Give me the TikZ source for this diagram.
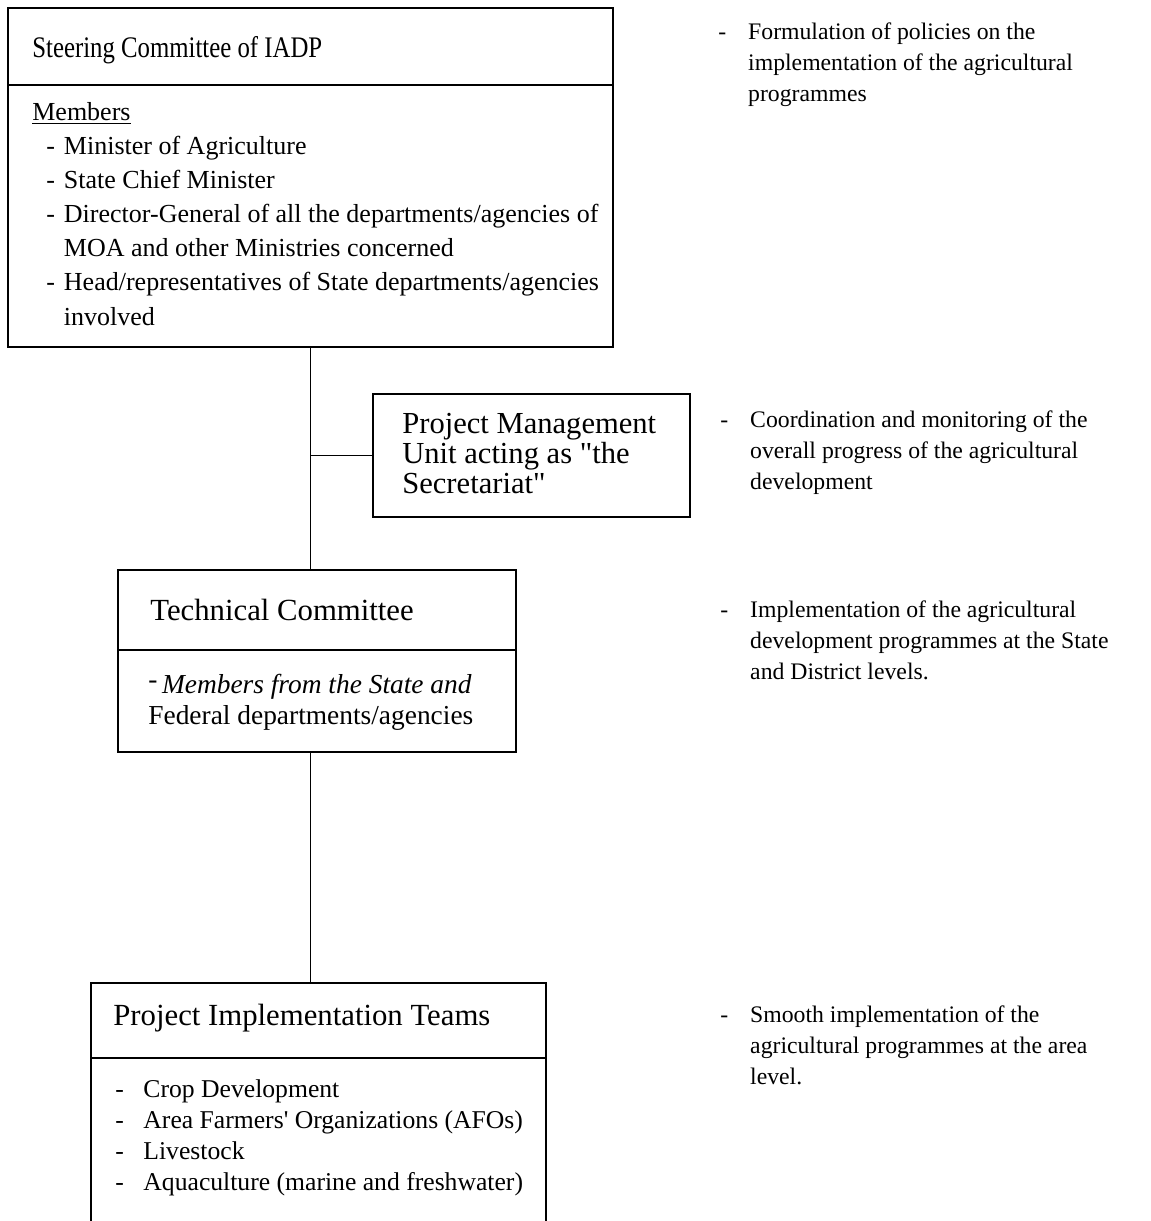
\documentclass[tikz,border=0pt]{standalone}
\usepackage{fontspec}
\setmainfont{Liberation Serif}[Ligatures=TeXOff]
\newfontfamily\narrowserif{Liberation Serif}[FakeStretch=0.83]
\usetikzlibrary{positioning,calc,fit}
\newcommand{\itm}{\makebox[10pt][l]{-}}
\newcommand{\rdash}{\makebox[17pt][l]{-}}
\tikzset{
  orgbox/.style={draw=black, line width=1.1pt, inner sep=0pt},
  rulel/.style={line width=1.1pt, draw=black},
  link/.style={line width=1.1pt, draw=black},
  headtxt/.style={anchor=base west, inner sep=0pt, font=\fontsize{17.5}{20}\selectfont},
  steerhead/.style={anchor=base west, inner sep=0pt, font=\narrowserif\fontsize{17}{20}\selectfont},
  membtxt/.style={anchor=base west, inner sep=0pt, align=left, font=\fontsize{14.8}{19.4}\selectfont},
  pmutxt/.style={anchor=base west, inner sep=0pt, align=left, font=\fontsize{17.4}{17}\selectfont},
  techtxt/.style={anchor=base west, inner sep=0pt, align=left, font=\fontsize{15.6}{17.2}\selectfont},
  teamtxt/.style={anchor=base west, inner sep=0pt, align=left, font=\fontsize{14.6}{17.6}\selectfont},
  roletxt/.style={anchor=base west, inner sep=0pt, align=left, font=\fontsize{13.5}{17.6}\selectfont}}
\begin{document}
\begin{tikzpicture}[x=0.02cm, y=-0.02cm]
  \useasboundingbox (0,0) rectangle (1151,1221);
  \clip (0,0) rectangle (1151,1221);
  \node[orgbox, fit={(8,8) (613,347)}] (steer) {};
  \draw[rulel] (8,85) -- (613,85);
  \node[steerhead] (steerttl) at (32,57) {Steering Committee of IADP};
  \node[membtxt] (steermem) at (32,325) {\underline{Members}\\
    \hspace*{8pt}\itm Minister of Agriculture\\
    \hspace*{8pt}\itm State Chief Minister\\
    \hspace*{8pt}\itm Director-General of all the departments/agencies of\\
    \hspace*{18pt}MOA and other Ministries concerned\\
    \hspace*{8pt}\itm Head/representatives of State departments/agencies\\
    \hspace*{18pt}involved};
  \node[roletxt] (steerrole) at (718,101) {\rdash Formulation of policies on the\\
    \hspace*{17pt}implementation of the agricultural\\
    \hspace*{17pt}programmes};

  \node[orgbox, fit={(373,394) (690,517)}] (pmu) {};
  \node[pmutxt] (pmuttl) at (402,493) {Project Management\\Unit acting as "the\\Secretariat"};
  \node[roletxt] (pmurole) at (720,489) {\rdash Coordination and monitoring of the\\
    \hspace*{17pt}overall progress of the agricultural\\
    \hspace*{17pt}development};

  \node[orgbox, fit={(118,570) (516,752)}] (tech) {};
  \draw[rulel] (118,650) -- (516,650);
  \node[headtxt] (techttl) at (150,620) {Technical Committee};
  \node[techtxt] (techmem) at (148,724) {\raisebox{3pt}{-}\,\textit{Members from the State and}\\
    Federal departments/agencies};
  \node[roletxt] (techrole) at (720,679) {\rdash Implementation of the agricultural\\
    \hspace*{17pt}development programmes at the State\\
    \hspace*{17pt}and District levels.};

  \node[orgbox, fit={(91,983) (546,1240)}] (pit) {};
  \draw[rulel] (91,1058) -- (546,1058);
  \node[headtxt] (pitttl) at (113,1025) {Project Implementation Teams};
  \node[teamtxt] (pitmem) at (115,1190) {\makebox[16pt][l]{-}Crop Development\\
    \makebox[16pt][l]{-}Area Farmers' Organizations (AFOs)\\
    \makebox[16pt][l]{-}Livestock\\
    \makebox[16pt][l]{-}Aquaculture (marine and freshwater)};
  \node[roletxt] (pitrole) at (720,1084) {\rdash Smooth implementation of the\\
    \hspace*{17pt}agricultural programmes at the area\\
    \hspace*{17pt}level.};

  \draw[link] (steer.south) -- (steer.south |- tech.north);
  \draw[link] (pmu.west) -- (pmu.west -| steer.south);
  \draw[link] (tech.south -| steer.south) -- (pit.north -| steer.south);
\end{tikzpicture}
\end{document}
